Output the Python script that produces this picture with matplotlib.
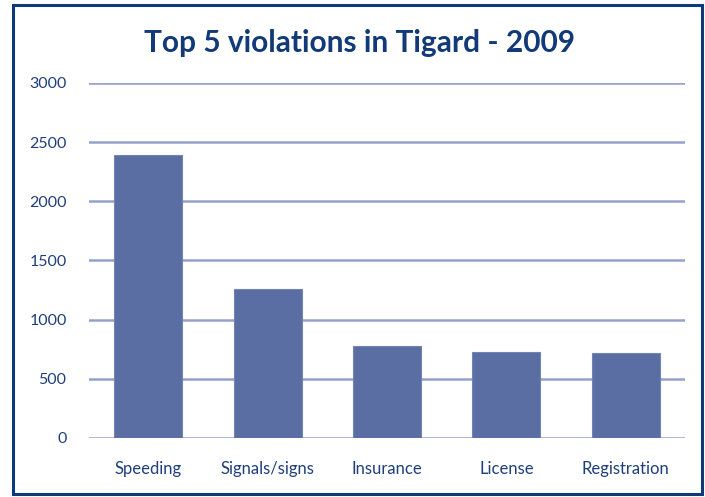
import matplotlib
matplotlib.use("Agg")
import matplotlib.pyplot as plt
from matplotlib.patches import Rectangle

categories = ["Speeding", "Signals/signs", "Insurance", "License", "Registration"]
counts = [2390, 1255, 780, 722, 715]
yticks = [0, 500, 1000, 1500, 2000, 2500, 3000]

TEXT = "#1f3f7c"
TITLE = "#123a78"
BAR = "#5a6ea3"
GRID = "#95a1cc"

plt.rcParams["font.family"] = ["Lato", "DejaVu Sans"]

fig = plt.figure(figsize=(7.05, 4.97), dpi=100)
ax = fig.add_axes([0.126, 0.119, 0.846, 0.714])

x = range(len(categories))
ax.bar(x, counts, width=0.57, color=BAR, edgecolor="#7383b3", linewidth=0.8, zorder=3)

ax.set_ylim(0, 3000)
ax.set_xlim(-0.5, len(categories) - 0.5)
ax.set_yticks(yticks)
ax.set_yticklabels([str(v) for v in yticks], color=TEXT, fontsize=11.5)
ax.set_xticks(list(x))
ax.set_xticklabels(categories, color=TEXT, fontsize=12)
ax.tick_params(axis="both", length=0)
ax.tick_params(axis="y", pad=16)
ax.tick_params(axis="x", pad=17)
ax.grid(axis="y", color=GRID, linewidth=1.8, zorder=0)
for s in ax.spines.values():
    s.set_visible(False)

fig.text(0.510, 0.913, "Top 5 violations in Tigard - 2009", ha="center", va="center",
         fontsize=21.5, fontweight="bold", color=TITLE)

fig.patches.append(Rectangle((13 / 705, 3 / 497), 689 / 705, 489 / 497,
                             transform=fig.transFigure, fill=False,
                             edgecolor="#0e3a7a", linewidth=2.2))

fig.savefig("out.png", dpi=100)
